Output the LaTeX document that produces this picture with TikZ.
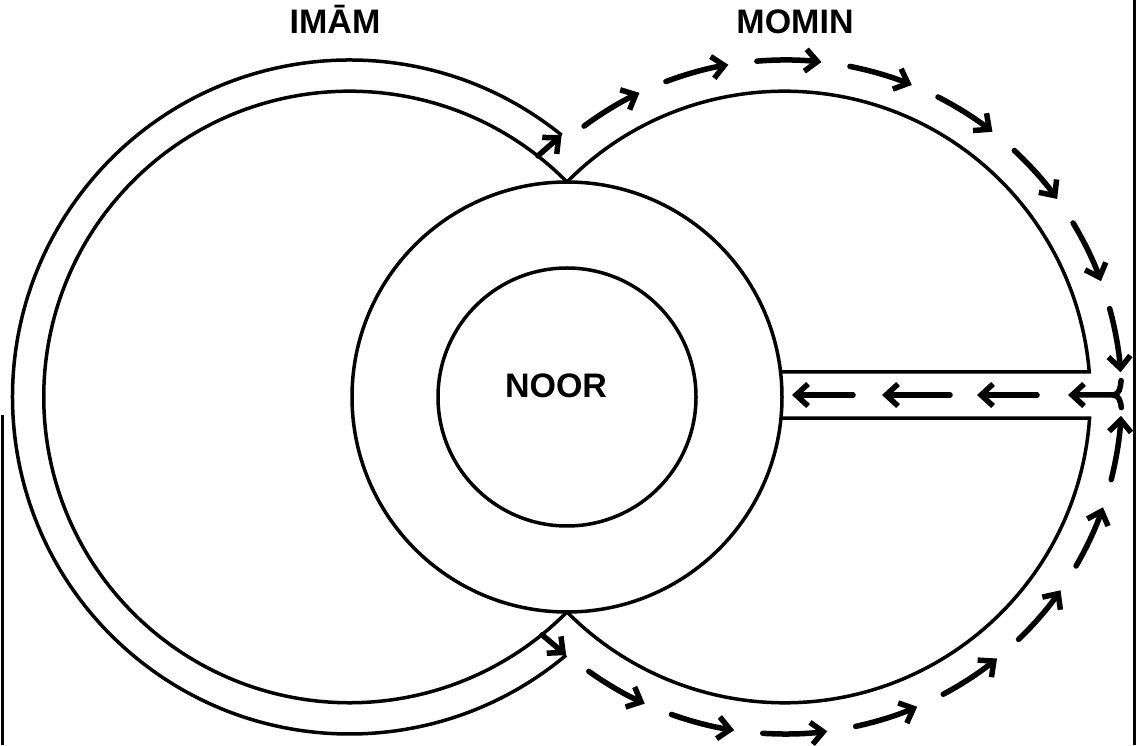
\documentclass[tikz,border=0pt]{standalone}
\usepackage{fontspec}
\setmainfont{Liberation Sans}
\usepackage{tikz}
\usetikzlibrary{arrows.meta, calc}

\begin{document}
\begin{tikzpicture}[
    x=1pt, y=1pt,
    font=\fontsize{34}{34}\selectfont\bfseries,
    outline/.style={line width=3.5pt},
    flow/.style={line width=5.5pt, line cap=round, -{Straight Barb[length=12pt, width=22pt]}},
    edge/.style={line width=3pt},
  ]
    \useasboundingbox (0,0) rectangle (1141,745);
    \coordinate (M) at (567,348);
    \coordinate (L) at (349.5,348);
    \coordinate (R) at (784.5,348);
    \coordinate (j1) at ($(M)+(0,215)$);
    \coordinate (j2) at ($(M)+(0,-215)$);
    \coordinate (fork) at (1113,350);

    \draw[outline] (M) circle[radius=215];
    \draw[outline] (M) circle[radius=129];
    \draw[outline] (j1) arc[start angle=44.67, end angle=315.33, radius=305.8];
    \draw[outline] ($(L)+(51:337)$) arc[start angle=51, end angle=310, radius=337];
    \draw[outline] (j1) arc[start angle=135.33, end angle=4.69, radius=305.8] -- ($(M)+(6.68:215)$);
    \draw[outline] ($(M)+(-5.61:215)$) -- ($(R)+(-3.94:305.8)$) arc[start angle=-3.94, end angle=-135.33, radius=305.8];

    \node[anchor=base] (imam) at (335,711) {IMĀM};
    \node[anchor=base] (momin) at (795,711) {MOMIN};
    \node[anchor=base] (noor) at (556,347) {NOOR};

    \draw[flow] ($(L)+(52:306)$) -- ($(L)+(51:337)$);
    \draw[flow] ($(L)+(-51:306)$) -- ($(L)+(-50:337)$);
    \foreach \a in {126.5,110.6,94.7,78.8,62.9,47.0,31.1,15.2}
      \draw[flow] ($(R)+(\a:337)$) arc[start angle=\a, delta angle=-11, radius=337];
    \foreach \a in {-125.5,-109.6,-93.7,-77.8,-61.9,-46.0,-30.1,-14.2}
      \draw[flow] ($(R)+(\a:337)$) arc[start angle=\a, delta angle=11, radius=337];
    \draw[flow] ($(R)+(2.8:337)$) to[out=-95, in=0] (fork) -- (1068,350);
    \draw[flow, -] ($(R)+(-1.8:337)$) to[out=95, in=0] (fork);
    \foreach \s/\e in {853/792, 950/882, 1037/977}
      \draw[flow] (\s,350) -- (\e,350);

    \draw[edge] (1134,0) -- (1134,745);
    \draw[edge] (2,0) -- (2,330);
  \end{tikzpicture}
\end{document}
